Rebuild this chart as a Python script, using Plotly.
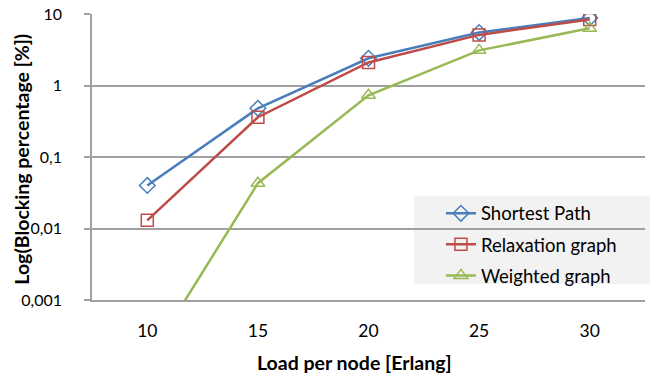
import plotly.graph_objects as go

loads = [10, 15, 20, 25, 30]
shortest_path = [0.04, 0.48, 2.4, 5.5, 8.8]
relaxation_graph = [0.013, 0.36, 2.1, 5.1, 8.4]
weighted_graph = [0.00014, 0.043, 0.73, 3.1, 6.3]

y_tickvals = [0.001, 0.01, 0.1, 1, 10]
y_ticktext = ["0,001", "0,01", "0,1", "1", "10"]

series = [
    ("Shortest Path", shortest_path, "#4a7ebb", "diamond-open"),
    ("Relaxation graph", relaxation_graph, "#be4b48", "square-open"),
    ("Weighted graph", weighted_graph, "#98b954", "triangle-up-open"),
]

FONT = "Lato, 'Open Sans', sans-serif"

fig = go.Figure()
for i, (name, vals, color, sym) in enumerate(series):
    fig.add_trace(go.Scatter(
        x=loads, y=vals, name=name, mode="lines+markers",
        line=dict(color=color, width=2.5),
        marker=dict(symbol=sym, size=12, color=color, line=dict(width=1.5, color=color)),
        legendgroup=f"g{i}",
        cliponaxis=True,
    ))

# legend background panel
fig.add_shape(type="rect", xref="paper", yref="paper",
              x0=0.582, x1=1.01, y0=0.056, y1=0.364,
              fillcolor="#f2f2f2", line=dict(width=0), layer="below")

# axis titles
fig.add_annotation(text="<b>Load per node [Erlang]</b>", xref="paper", yref="paper",
                   x=0.474, y=-0.217, xanchor="center", yanchor="middle",
                   showarrow=False, font=dict(size=19.5, family=FONT))
fig.add_annotation(text="<b>Log(Blocking percentage [%])</b>", xref="paper", yref="paper",
                   x=-0.129, y=0.493, xanchor="center", yanchor="middle", textangle=-90,
                   showarrow=False, font=dict(size=19.5, family=FONT))

fig.update_layout(
    width=650, height=373,
    margin=dict(l=92, r=5, t=14, b=73),
    paper_bgcolor="white", plot_bgcolor="white",
    font=dict(family=FONT, size=17, color="#000000"),
    showlegend=True,
    legend=dict(
        x=0.631, y=0.368, xanchor="left", yanchor="top",
        bgcolor="rgba(0,0,0,0)", borderwidth=0,
        font=dict(size=18.5, family=FONT),
        tracegroupgap=4, traceorder="grouped",
        itemwidth=30,
    ),
    xaxis=dict(
        range=[7.5, 32.5], tickvals=loads, ticktext=[str(v) for v in loads],
        showgrid=False, showline=True, linecolor="#a0a0a0", linewidth=1.5,
        ticks="", zeroline=False, ticklabelstandoff=14,
        tickfont=dict(size=17.5),
    ),
    yaxis=dict(
        type="log", range=[-3, 1],
        tickvals=y_tickvals, ticktext=y_ticktext,
        showgrid=True, gridcolor="#a0a0a0", gridwidth=1.5,
        showline=True, linecolor="#a0a0a0", linewidth=1.5,
        ticks="outside", ticklen=6, tickcolor="#a0a0a0", tickwidth=1.5,
        ticklabelstandoff=19,
        tickfont=dict(size=16),
    ),
)

fig.write_html("out.html")
